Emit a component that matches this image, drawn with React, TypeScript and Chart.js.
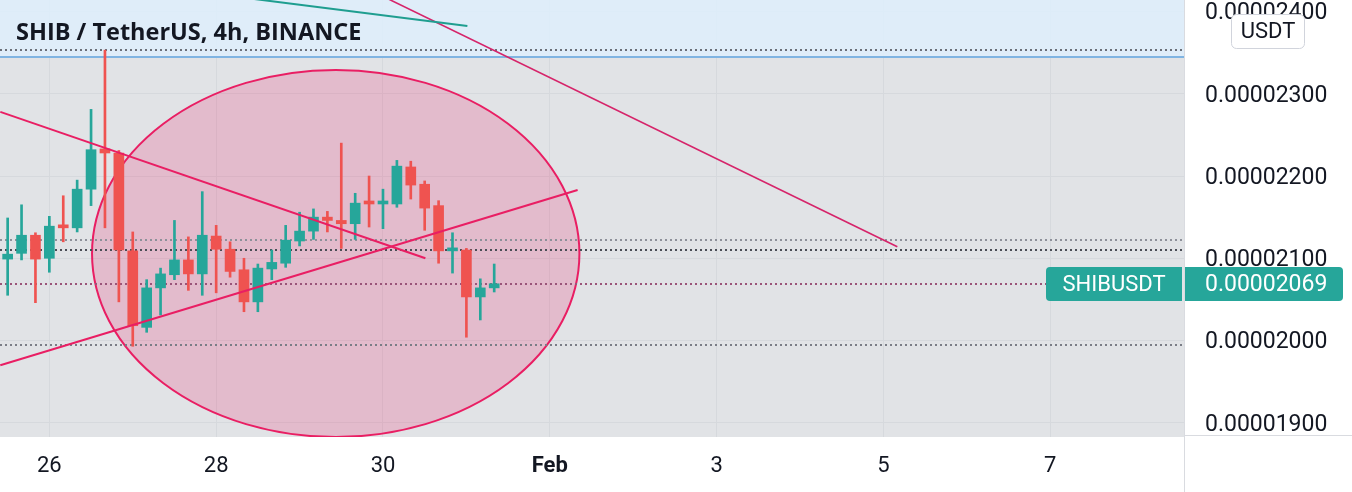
import React, { useEffect, useRef } from 'react';
import { Chart, registerables } from 'chart.js';

Chart.register(...registerables);

// ---- Data (prices in units of 1e-8 USDT) ----
const candleIndex = [0, 1, 2, 3, 4, 5, 6, 7, 8, 9, 10, 11, 12, 13, 14, 15, 16, 17, 18, 19, 20, 21, 22, 23, 24, 25, 26, 27, 28, 29, 30, 31, 32, 33, 34, 35];
const openE8 = [2099, 2106, 2128, 2100, 2139, 2137, 2184, 2233, 2228, 2109, 2016, 2064, 2080, 2098, 2081, 2127, 2111, 2086, 2047, 2087, 2094, 2121, 2133, 2150, 2146, 2142, 2167, 2166, 2166, 2211, 2190, 2164, 2109, 2110, 2053, 2064];
const highE8 = [2149, 2165, 2131, 2151, 2176, 2195, 2281, 2353, 2231, 2132, 2074, 2088, 2146, 2126, 2181, 2140, 2120, 2100, 2093, 2110, 2140, 2156, 2160, 2157, 2240, 2179, 2200, 2184, 2219, 2218, 2194, 2170, 2131, 2112, 2075, 2093];
const lowE8 = [2055, 2098, 2046, 2083, 2120, 2132, 2164, 2137, 2047, 1993, 2010, 2031, 2074, 2061, 2055, 2058, 2077, 2035, 2035, 2074, 2089, 2115, 2123, 2132, 2112, 2123, 2138, 2136, 2162, 2172, 2134, 2094, 2082, 2004, 2025, 2059];
const closeE8 = [2105, 2128, 2099, 2139, 2137, 2184, 2232, 2228, 2110, 2018, 2064, 2081, 2098, 2081, 2128, 2111, 2084, 2047, 2088, 2095, 2122, 2133, 2150, 2146, 2142, 2167, 2166, 2167, 2212, 2189, 2161, 2109, 2110, 2053, 2064, 2069];

const xTickIndex = [3, 15, 27, 39, 51, 63, 75];
const xTickLabels = ['26', '28', '30', 'Feb', '3', '5', '7'];
const yTickValues = [1900, 2000, 2100, 2200, 2300, 2400];

const lastPrice = 2069;
const symbolName = 'SHIBUSDT';
const currencyName = 'USDT';
const titleText = 'SHIB / TetherUS, 4h, BINANCE';

// horizontal dotted levels
const levelPrices = [2353, 2122, 2110, 1994];
const levelColors = ['#6b6f78', '#8d9099', '#4a4d55', '#7a7d86'];

// drawings in data coordinates [index, price]
const trendA = [[-0.53, 2278], [30.05, 2100]];
const trendB = [[-0.53, 1970], [41.0, 2183]];
const trendC = [[20, 2476], [64.0, 2114]];
const trendD = [[12, 2427.5], [33.07, 2382.4]];
const ellipseCenter = [23.6, 2105.8];
const ellipseRadius = [17.53, 223.1];
const bandBottom = 2344.7;
const bandTop = 2600;

const X_MIN = -0.55;
const X_MAX = 84.62;
const Y_MIN = 1882.7;
const Y_MAX = 2414.0;

const UP = '#26a69a';
const DOWN = '#ef5350';

const candleColors = candleIndex.map((_, i) => (closeE8[i] >= openE8[i] ? UP : DOWN));

const fmt = (v: number) => (v / 1e8).toFixed(8);

const drawingsPlugin = {
  id: 'drawings',
  beforeDraw(chart: any) {
    const { ctx, chartArea: a, width, height } = chart;
    ctx.save();
    ctx.fillStyle = '#ffffff';
    ctx.fillRect(0, 0, width, height);
    ctx.fillStyle = '#e1e3e6';
    ctx.fillRect(a.left, a.top, a.right - a.left, a.bottom - a.top);
    ctx.restore();
  },
  beforeDatasetsDraw(chart: any) {
    const { ctx, chartArea: a, scales } = chart;
    const xs = scales.x;
    const ys = scales.y;
    ctx.save();
    ctx.beginPath();
    ctx.rect(a.left, a.top, a.right - a.left, a.bottom - a.top);
    ctx.clip();

    // band
    const bTop = ys.getPixelForValue(bandTop);
    const bBot = ys.getPixelForValue(bandBottom);
    ctx.fillStyle = 'rgba(222,238,252,0.88)';
    ctx.fillRect(a.left, bTop, a.right - a.left, bBot - bTop);
    ctx.strokeStyle = '#7fb4e2';
    ctx.lineWidth = 2;
    ctx.beginPath();
    ctx.moveTo(a.left, bBot);
    ctx.lineTo(a.right, bBot);
    ctx.stroke();

    // ellipse
    const cx = xs.getPixelForValue(ellipseCenter[0]);
    const cy = ys.getPixelForValue(ellipseCenter[1]);
    const rx = Math.abs(xs.getPixelForValue(ellipseCenter[0] + ellipseRadius[0]) - cx);
    const ry = Math.abs(ys.getPixelForValue(ellipseCenter[1] + ellipseRadius[1]) - cy);
    ctx.beginPath();
    ctx.ellipse(cx, cy, rx, ry, 0, 0, Math.PI * 2);
    ctx.fillStyle = 'rgba(233,30,99,0.2)';
    ctx.fill();
    ctx.strokeStyle = '#e91e63';
    ctx.lineWidth = 2;
    ctx.stroke();

    // dotted levels
    ctx.lineWidth = 2;
    ctx.setLineDash([2, 3]);
    levelPrices.forEach((p, i) => {
      const y = Math.round(ys.getPixelForValue(p));
      ctx.strokeStyle = levelColors[i];
      ctx.beginPath();
      ctx.moveTo(a.left, y);
      ctx.lineTo(a.right, y);
      ctx.stroke();
    });
    // last price line
    const ly = Math.round(ys.getPixelForValue(lastPrice));
    ctx.strokeStyle = '#9a5479';
    ctx.beginPath();
    ctx.moveTo(a.left, ly);
    ctx.lineTo(a.right, ly);
    ctx.stroke();
    ctx.setLineDash([]);
    ctx.restore();
  },
  afterDatasetsDraw(chart: any) {
    const { ctx, chartArea: a, scales } = chart;
    const xs = scales.x;
    const ys = scales.y;
    ctx.save();
    ctx.beginPath();
    ctx.rect(a.left, a.top, a.right - a.left, a.bottom - a.top);
    ctx.clip();
    const seg = (pts: number[][], color: string, w: number) => {
      ctx.strokeStyle = color;
      ctx.lineWidth = w;
      ctx.beginPath();
      ctx.moveTo(xs.getPixelForValue(pts[0][0]), ys.getPixelForValue(pts[0][1]));
      ctx.lineTo(xs.getPixelForValue(pts[1][0]), ys.getPixelForValue(pts[1][1]));
      ctx.stroke();
    };
    seg(trendA, '#e91e63', 2);
    seg(trendB, '#e91e63', 2);
    seg(trendC, '#d6246a', 1.6);
    seg(trendD, '#1f9e90', 2);
    ctx.restore();
  },
  afterDraw(chart: any) {
    const { ctx, chartArea: a, scales, width, height } = chart;
    const ys = scales.y;
    ctx.save();
    // separators
    ctx.strokeStyle = '#d9dbe0';
    ctx.lineWidth = 1;
    ctx.beginPath();
    ctx.moveTo(a.right + 0.5, 0);
    ctx.lineTo(a.right + 0.5, height);
    ctx.moveTo(a.right, a.bottom - 1.5);
    ctx.lineTo(width, a.bottom - 1.5);
    ctx.stroke();

    // title
    ctx.fillStyle = '#131722';
    ctx.font = '700 23.5px "Open Sans"';
    ctx.textBaseline = 'middle';
    ctx.textAlign = 'left';
    ctx.fillText(titleText, 16, 33);

    // currency box
    ctx.fillStyle = '#ffffff';
    ctx.strokeStyle = '#d1d4dc';
    ctx.lineWidth = 1;
    ctx.beginPath();
    ctx.roundRect(1231.5, 14.5, 73, 34, 5);
    ctx.fill();
    ctx.stroke();
    ctx.fillStyle = '#131722';
    ctx.font = '22px Roboto';
    ctx.textAlign = 'center';
    ctx.fillText(currencyName, 1268, 32);

    // last price labels
    const py = ys.getPixelForValue(lastPrice);
    const top = Math.round(py) - 17;
    ctx.fillStyle = UP;
    ctx.beginPath();
    ctx.roundRect(1046, top, 136, 34, [4, 0, 0, 4]);
    ctx.fill();
    ctx.beginPath();
    ctx.roundRect(a.right + 1, top, 158, 34, [0, 4, 4, 0]);
    ctx.fill();
    ctx.fillStyle = '#ffffff';
    ctx.font = '22px Roboto';
    ctx.textAlign = 'center';
    ctx.fillText(symbolName, 1114, top + 18);
    ctx.font = '23px Roboto';
    ctx.textAlign = 'left';
    ctx.fillText(fmt(lastPrice), a.right + 21, top + 18);
    ctx.restore();
  },
};

export default function App() {
  const ref = useRef<HTMLCanvasElement | null>(null);
  useEffect(() => {
    if (!ref.current) return;
    const chart = new Chart(ref.current, {
      type: 'bar',
      data: {
        datasets: [
          {
            label: 'body',
            data: candleIndex.map((x, i) => ({ x, y: [openE8[i], closeE8[i]] })) as any,
            backgroundColor: candleColors,
            borderWidth: 0,
            barThickness: 10,
            minBarLength: 3,
            grouped: false,
            order: 0,
          } as any,
          {
            label: 'wick',
            data: candleIndex.map((x, i) => ({ x, y: [lowE8[i], highE8[i]] })) as any,
            backgroundColor: candleColors,
            borderWidth: 0,
            barThickness: 2,
            grouped: false,
            order: 1,
          } as any,
        ],
      },
      options: {
        animation: false,
        responsive: false,
        events: [],
        layout: { padding: 0 },
        plugins: { legend: { display: false }, tooltip: { enabled: false }, title: { display: false } },
        scales: {
          x: {
            type: 'linear',
            min: X_MIN,
            max: X_MAX,
            offset: false,
            afterBuildTicks: (s: any) => {
              s.ticks = xTickIndex.map((v) => ({ value: v }));
            },
            afterFit: (s: any) => {
              s.height = 55;
              s.paddingLeft = 0;
              s.paddingRight = 0;
              s.paddingTop = 0;
              s.paddingBottom = 0;
            },
            grid: { color: '#d6d9dd', drawTicks: false, offset: false, lineWidth: 1 },
            border: { display: false },
            ticks: {
              autoSkip: false,
              maxRotation: 0,
              padding: 16,
              color: '#131722',
              font: (c: any) => ({
                family: 'Roboto',
                size: 22,
                weight: c.tick && xTickLabels[xTickIndex.indexOf(c.tick.value)] === 'Feb' ? 'bold' : 'normal',
              }),
              callback: (v: any) => {
                const k = xTickIndex.indexOf(Number(v));
                return k >= 0 ? xTickLabels[k] : '';
              },
            },
          } as any,
          y: {
            type: 'linear',
            position: 'right',
            min: Y_MIN,
            max: Y_MAX,
            afterBuildTicks: (s: any) => {
              s.ticks = yTickValues.map((v) => ({ value: v }));
            },
            afterFit: (s: any) => {
              s.width = 168;
              s.paddingLeft = 0;
              s.paddingRight = 0;
              s.paddingTop = 0;
              s.paddingBottom = 0;
            },
            grid: { color: '#d6d9dd', drawTicks: false, lineWidth: 1 },
            border: { display: false },
            ticks: {
              autoSkip: false,
              padding: 21,
              labelOffset: 2,
              color: '#131722',
              font: { family: 'Roboto', size: 23 },
              callback: (v: any) => fmt(Number(v)),
            },
          } as any,
        },
      },
      plugins: [drawingsPlugin as any],
    });
    return () => chart.destroy();
  }, []);
  return (
    <div style={{ position: 'fixed', left: 0, top: 0, width: 1352, height: 492 }}>
      <canvas ref={ref} width={1352} height={492} style={{ display: 'block', width: 1352, height: 492 }} />
    </div>
  );
}
